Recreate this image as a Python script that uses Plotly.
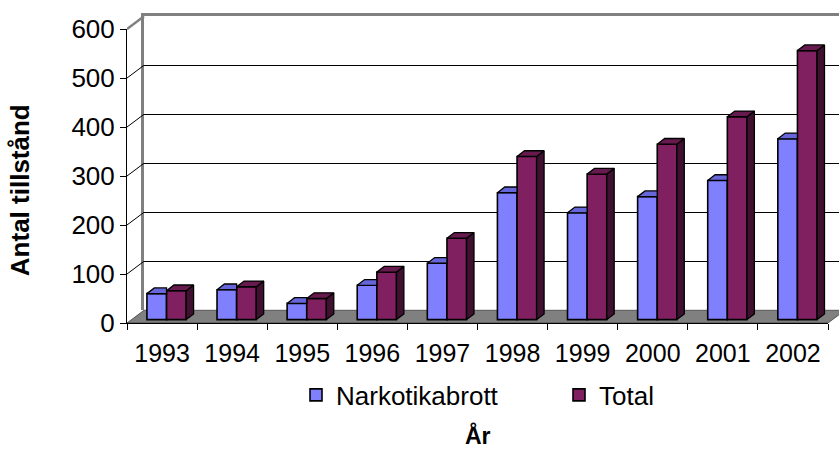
import plotly.graph_objects as go

# ---------------- data ----------------
years = ["1993", "1994", "1995", "1996", "1997", "1998", "1999", "2000", "2001", "2002"]
narkotika = [53, 61, 33, 70, 115, 259, 218, 251, 284, 369]
total = [59, 67, 43, 97, 166, 333, 297, 358, 414, 549]

# ---------------- geometry (pixels -> axis units) ----------------
FIG_W, FIG_H = 839, 450
M_L, M_T = 127, 16
AREA_W = FIG_W - M_L            # 712
AREA_H = 322.7 - M_T            # 306.7
M_B = FIG_H - 322.7
FRONT_H = 322.7 - 29            # px for 0..600 on front axis
CAT_PX = 70.1
UNIT_PX = FRONT_H / 600.0

WALL_DX = 17 / CAT_PX           # depth of the chart floor, in category units
WALL_DY = 12.7 / UNIT_PX        # depth of the chart floor, in value units
BASE = 3.4 / UNIT_PX            # bars stand slightly back on the floor
SHIFT = 4.5 / CAT_PX
BW = 0.28
BDX = 7.4 / CAT_PX              # bar depth
BDY = 5.7 / UNIT_PX

C_N = "#8080FF"
C_N_TOP = "#6666D9"
C_T = "#802060"
C_T_TOP = "#661A4D"
C_T_SIDE = "#401030"
GRAY = "#808080"
FONT = "Liberation Sans, Arial, sans-serif"

pos = list(range(len(years)))

fig = go.Figure()

# back wall subplot (x / y) : just gridlines & wall frame
fig.add_trace(go.Scatter(x=[None], y=[None], xaxis="x", yaxis="y",
                         showlegend=False, hoverinfo="skip"))

# floor + wall connectors (x2 / y2), same scale as the front axes
fx0, fx1 = -0.5, len(years) - 0.5
fig.add_trace(go.Scatter(
    x=[fx0, fx1, fx1 + WALL_DX, fx0 + WALL_DX, fx0],
    y=[0, 0, WALL_DY, WALL_DY, 0],
    fill="toself", fillcolor=GRAY, mode="lines",
    line=dict(color="#404040", width=0.8),
    xaxis="x2", yaxis="y2", showlegend=False, hoverinfo="skip"))

cx, cy = [], []
for v in range(100, 600, 100):
    cx += [fx0, fx0 + WALL_DX, None]
    cy += [v, v + WALL_DY, None]
fig.add_trace(go.Scatter(x=cx, y=cy, mode="lines", line=dict(color="black", width=1),
                         xaxis="x2", yaxis="y2", showlegend=False, hoverinfo="skip"))
fig.add_trace(go.Scatter(x=[fx0, fx0 + WALL_DX], y=[600, 600 + WALL_DY], mode="lines",
                         line=dict(color=GRAY, width=2.5),
                         xaxis="x2", yaxis="y2", showlegend=False, hoverinfo="skip"))

# front bars (x3 / y3)
fig.add_trace(go.Bar(x=pos, y=narkotika, base=BASE, width=BW, offset=SHIFT - BW,
                     name="Narkotikabrott", marker=dict(color=C_N, line=dict(color="black", width=1.6)),
                     xaxis="x3", yaxis="y3", hoverinfo="skip"))
fig.add_trace(go.Bar(x=pos, y=total, base=BASE, width=BW, offset=SHIFT,
                     name="Total", marker=dict(color=C_T, line=dict(color="black", width=1.6)),
                     xaxis="x3", yaxis="y3", hoverinfo="skip"))

# 3D faces computed from the values
ntx, nty = [], []
for i, v in zip(pos, narkotika):
    x0 = i + SHIFT - BW
    x1 = i + SHIFT
    t = BASE + v
    ntx += [x0, x1, x1, x0 + BDX, x0, None]
    nty += [t, t, t + BDY, t + BDY, t, None]
fig.add_trace(go.Scatter(x=ntx, y=nty, fill="toself", fillcolor=C_N_TOP, mode="lines",
                         line=dict(color="black", width=1.3),
                         xaxis="x3", yaxis="y3", showlegend=False, hoverinfo="skip"))

tsx, tsy, ttx, tty = [], [], [], []
for i, v in zip(pos, total):
    x0 = i + SHIFT
    x1 = i + SHIFT + BW
    t = BASE + v
    tsx += [x1, x1 + BDX, x1 + BDX, x1, x1, None]
    tsy += [BASE, BASE + BDY, t + BDY, t, BASE, None]
    ttx += [x0, x1, x1 + BDX, x0 + BDX, x0, None]
    tty += [t, t, t + BDY, t + BDY, t, None]
fig.add_trace(go.Scatter(x=tsx, y=tsy, fill="toself", fillcolor=C_T_SIDE, mode="lines",
                         line=dict(color="black", width=1.3),
                         xaxis="x3", yaxis="y3", showlegend=False, hoverinfo="skip"))
fig.add_trace(go.Scatter(x=ttx, y=tty, fill="toself", fillcolor=C_T_TOP, mode="lines",
                         line=dict(color="black", width=1.3),
                         xaxis="x3", yaxis="y3", showlegend=False, hoverinfo="skip"))

tick_vals = [0, 100, 200, 300, 400, 500, 600]

fig.update_layout(
    width=FIG_W, height=FIG_H,
    margin=dict(l=M_L, r=0, t=M_T, b=M_B, pad=0, autoexpand=False),
    paper_bgcolor="white", plot_bgcolor="rgba(0,0,0,0)",
    font=dict(family=FONT, color="black"),
    barmode="overlay",
    showlegend=True,
    # back wall
    xaxis=dict(domain=[17 / AREA_W, 1], range=[0, 1], anchor="y", side="top",
               showline=True, linecolor=GRAY, linewidth=2.5, showgrid=False,
               zeroline=False, showticklabels=False, ticks="", fixedrange=True,
               automargin=False),
    yaxis=dict(domain=[12.7 / AREA_H, 1], range=[0, 600], anchor="x",
               tickvals=tick_vals[1:-1], showgrid=True, gridcolor="black", gridwidth=1,
               showline=True, linecolor=GRAY, linewidth=2.5, zeroline=False,
               showticklabels=False, ticks="", fixedrange=True, automargin=False),
    # floor layer
    xaxis2=dict(domain=[0, 1], range=[fx0, fx0 + AREA_W / CAT_PX], anchor="y2",
                visible=False, fixedrange=True, automargin=False),
    yaxis2=dict(domain=[0, 1], range=[0, AREA_H / UNIT_PX], anchor="x2",
                visible=False, fixedrange=True, automargin=False),
    # front axes
    xaxis3=dict(domain=[0, 701 / AREA_W], range=[fx0, fx1], anchor="y3",
                tickvals=pos, ticktext=years, ticks="",
                minor=dict(ticks="outside", tick0=-0.5, dtick=1, ticklen=6,
                           tickcolor="black", tickwidth=1, showgrid=False),
                showline=True, linecolor="black", linewidth=1, showgrid=False,
                zeroline=False, tickfont=dict(size=25, family=FONT), fixedrange=True,
                ticklabelstandoff=8, automargin=False),
    yaxis3=dict(domain=[0, FRONT_H / AREA_H], range=[0, 600], anchor="x3",
                tickvals=tick_vals, ticks="outside", ticklen=6, tickcolor="black",
                showline=True, linecolor="black", linewidth=1, showgrid=False,
                zeroline=False, tickfont=dict(size=26, family=FONT), fixedrange=True,
                ticklabelstandoff=0, automargin=False),
    legend=dict(orientation="h", xref="container", yref="container",
                x=296 / FIG_W, y=1 - 395 / FIG_H, xanchor="left", yanchor="middle",
                font=dict(size=26, family=FONT), entrywidth=218, entrywidthmode="pixels",
                bgcolor="rgba(0,0,0,0)", itemclick=False, itemdoubleclick=False),
    annotations=[
        dict(text="<b>Antal tillstånd</b>", xref="paper", yref="paper",
             x=(20 - M_L) / AREA_W, y=(322.7 - 190) / AREA_H, textangle=-90,
             showarrow=False, font=dict(size=26, family=FONT),
             xanchor="center", yanchor="middle"),
        dict(text="<b>År</b>", xref="paper", yref="paper",
             x=(478 - M_L) / AREA_W, y=(322.7 - 435) / AREA_H,
             showarrow=False, font=dict(size=23, family=FONT),
             xanchor="center", yanchor="middle"),
    ],
)

fig.write_html("out.html", config={"displayModeBar": False},
               post_script="document.body.style.margin='0';document.body.style.padding='0';")
